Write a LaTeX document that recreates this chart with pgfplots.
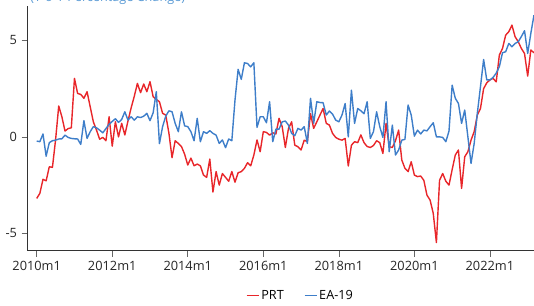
\documentclass[border=0pt]{standalone}
\usepackage{fontspec}
\setmainfont{Open Sans}
\usepackage{pgfplots}
\usepackage{pgfplotstable}
\pgfplotsset{compat=1.18}
\definecolor{prt}{RGB}{232,38,42}
\definecolor{ea}{RGB}{62,126,201}
\definecolor{ttl}{RGB}{91,155,213}
\pgfplotstableread{
m prt ea
0 -3.19 -0.22
1 -2.93 -0.25
2 -2.20 0.15
3 -2.28 -1.00
4 -1.55 -0.30
5 -1.58 -0.20
6 -0.15 -0.17
7 1.60 -0.11
8 1.04 -0.10
9 0.30 0.09
10 0.43 -0.03
11 0.47 -0.08
12 3.03 -0.10
13 2.25 -0.11
14 2.20 -0.39
15 2.00 0.84
16 2.34 -0.08
17 1.56 0.27
18 0.78 0.53
19 0.35 0.47
20 -0.12 0.35
21 -0.03 0.21
22 -0.20 0.43
23 1.04 0.65
24 -0.48 0.80
25 0.78 0.94
26 0.00 0.75
27 0.70 0.90
28 0.10 1.30
29 0.82 0.87
30 1.50 1.04
31 2.10 0.87
32 2.77 1.04
33 2.29 1.00
34 2.74 1.07
35 2.34 1.22
36 2.86 0.84
37 2.08 1.25
38 1.94 2.34
39 1.82 -0.35
40 1.22 0.53
41 1.13 1.07
42 0.20 1.35
43 -1.08 1.30
44 -0.20 0.70
45 -0.34 0.27
46 -0.50 1.30
47 -0.90 0.57
48 -1.46 0.53
49 -1.10 0.27
50 -1.50 -0.20
51 -1.41 0.96
52 -1.50 -0.25
53 -1.98 0.27
54 -2.10 0.18
55 -1.15 0.32
56 -2.86 0.18
57 -1.80 0.09
58 -2.50 -0.34
59 -1.90 -0.16
60 -2.10 -0.56
61 -2.30 -0.11
62 -1.80 -0.20
63 -2.35 1.90
64 -1.86 3.50
65 -1.80 2.98
66 -1.63 3.84
67 -1.34 3.80
68 -1.50 3.63
69 -0.94 3.84
70 -0.16 0.49
71 -0.77 1.04
72 0.27 1.04
73 0.23 0.73
74 0.09 1.82
75 0.21 -0.25
76 0.15 0.40
77 0.96 0.40
78 0.53 0.78
79 -0.55 0.82
80 0.44 0.61
81 0.78 0.18
82 -0.43 0.06
83 -0.51 0.44
84 -0.68 0.35
85 -0.17 0.53
86 -0.25 -0.34
87 1.20 2.00
88 0.44 0.70
89 0.78 1.82
90 1.13 1.78
91 1.47 1.77
92 0.70 1.13
93 0.61 1.34
94 0.18 1.18
95 -0.03 0.87
96 -0.12 0.78
97 -0.17 1.13
98 -0.08 1.73
99 -1.51 0.00
100 -0.43 2.42
101 -0.25 0.70
102 -0.30 1.47
103 0.10 1.35
104 -0.30 1.20
105 -0.50 1.82
106 -0.55 -0.08
107 -0.45 0.27
108 -0.20 1.30
109 -0.30 0.53
110 -0.86 -0.03
111 0.70 1.82
112 -0.51 -0.77
113 -0.55 0.61
114 -0.20 -0.94
115 0.35 -0.68
116 -1.20 -0.17
117 -1.63 -0.13
118 -1.80 1.65
119 -1.29 1.13
120 -1.98 0.04
121 -2.06 0.35
122 -2.03 0.15
123 -2.25 0.35
124 -3.02 0.31
125 -3.28 0.53
126 -3.97 0.73
127 -5.48 0.00
128 -2.25 0.00
129 -1.90 -0.03
130 -2.30 -0.25
131 -2.50 0.30
132 -1.70 2.68
133 -0.94 2.00
134 -0.68 1.73
135 -2.67 0.70
136 -1.03 1.39
137 -0.77 0.00
138 -0.17 -1.38
139 0.27 -0.34
140 1.13 1.22
141 1.47 2.60
142 2.50 4.01
143 2.80 2.95
144 2.95 2.95
145 3.03 3.08
146 2.85 3.30
147 4.24 3.64
148 4.58 4.36
149 5.27 4.41
150 5.45 4.84
151 5.79 4.67
152 5.19 4.84
153 4.93 4.93
154 4.58 5.20
155 4.32 5.50
156 3.15 4.32
157 4.50 5.36
158 4.36 6.31
}\datatable
\begin{document}
\begin{tikzpicture}
\useasboundingbox (0,0) rectangle (400.5pt,228.75pt);
\clip (0,0) rectangle (400.5pt,228.75pt);
\node[anchor=base west, text=ttl, font=\fontsize{9.5}{11}\selectfont, inner sep=0pt] at (22.5pt,228pt) {(Y-o-Y Percentage Change)};
\begin{axis}[
  at={(20.775pt,40.725pt)}, anchor=south west,
  scale only axis, width=379.7pt, height=183.5pt,
  xmin=-2.86, xmax=158, ymin=-5.9, ymax=6.78,
  axis x line*=bottom, axis y line*=left,
  axis line style={-, draw=black!80, line width=0.65pt},
  xtick={0,24,48,72,96,120,144},
  xticklabels={2010m1,2012m1,2014m1,2016m1,2018m1,2020m1,2022m1},
  ytick={-5,0,5},
  yticklabels={-5,0,5},
  tick align=outside,
  major tick length=4.5pt,
  tick style={black!60, line width=0.5pt},
  ticklabel style={font=\fontsize{9.6}{11}\selectfont, text=black!85},
  clip=false,
  legend style={at={(0.538,-0.184)}, anchor=center, draw=none, fill=none,
    legend columns=2, font=\fontsize{9.5}{11}\selectfont,
    /tikz/every even column/.append style={column sep=14pt},
    nodes={inner sep=1pt}},
  legend image code/.code={\draw[#1,line width=1.05pt] (0pt,0pt) -- (9.5pt,0pt);},
]
\addplot[prt, line width=1.05pt, line join=round] table[x=m, y=prt] {\datatable};
\addlegendentry{PRT}
\addplot[ea, line width=1.05pt, line join=round] table[x=m, y=ea] {\datatable};
\addlegendentry{EA-19}
\end{axis}
\end{tikzpicture}
\end{document}
